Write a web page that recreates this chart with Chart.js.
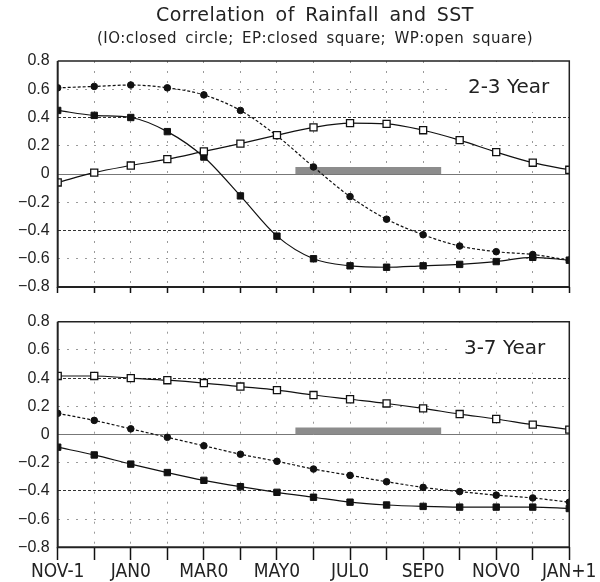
<!DOCTYPE html>
<html><head><meta charset="utf-8">
<script src="https://cdn.jsdelivr.net/npm/chart.js@4/dist/chart.umd.min.js"></script>
<style>
html,body{margin:0;padding:0;background:#fff;}
#wrap{position:relative;width:600px;height:582px;overflow:hidden;background:#fff;}
canvas{position:absolute;left:0;}
.t{position:absolute;font-family:"DejaVu Sans",sans-serif;color:#222;white-space:nowrap;line-height:normal;}
#title{top:3px;left:156px;font-size:19px;letter-spacing:0.4px;word-spacing:4px;}
#sub{top:28.5px;left:97px;font-size:15px;letter-spacing:0.5px;word-spacing:3px;}
</style></head><body>
<div id="wrap">
<canvas id="c1" width="600" height="300" style="top:0"></canvas>
<canvas id="c2" width="600" height="282" style="top:300px"></canvas>
<div id="title" class="t">Correlation of Rainfall and SST</div>
<div id="sub" class="t">(IO:closed circle; EP:closed square; WP:open square)</div>
</div>
<script>
// ---- data ----
const months = ['NOV-1','DEC-1','JAN0','FEB0','MAR0','APR0','MAY0','JUN0','JUL0','AUG0','SEP0','OCT0','NOV0','DEC0','JAN+1'];
const tickLabels = ['NOV-1','','JAN0','','MAR0','','MAY0','','JUL0','','SEP0','','NOV0','','JAN+1'];
const yTicks = [-0.8,-0.6,-0.4,-0.2,0,0.2,0.4,0.6,0.8];
const panelLabels = ['2-3 Year','3-7 Year'];
// 2-3 year band
const io23 = [0.61,0.62,0.63,0.61,0.56,0.45,0.27,0.05,-0.16,-0.32,-0.43,-0.51,-0.55,-0.57,-0.61];
const ep23 = [0.45,0.415,0.40,0.30,0.12,-0.155,-0.44,-0.60,-0.65,-0.66,-0.65,-0.64,-0.62,-0.59,-0.61];
const wp23 = [-0.06,0.01,0.06,0.105,0.16,0.215,0.275,0.33,0.36,0.355,0.31,0.24,0.155,0.08,0.03];
// 3-7 year band
const io37 = [0.15,0.10,0.04,-0.02,-0.08,-0.14,-0.19,-0.245,-0.29,-0.335,-0.375,-0.405,-0.43,-0.45,-0.48];
const ep37 = [-0.09,-0.145,-0.21,-0.27,-0.325,-0.37,-0.41,-0.445,-0.48,-0.50,-0.51,-0.515,-0.515,-0.515,-0.525];
const wp37 = [0.415,0.415,0.40,0.385,0.365,0.34,0.315,0.28,0.25,0.22,0.185,0.145,0.11,0.07,0.035];
// shaded season bar (x in month index, height in correlation units)
const seasonX = [6.5,10.5];
const seasonY = [0.05,0.05];

const toXY = arr => arr.map((v,i)=>({x:i,y:v}));

function gridColor(v){
  if (v===undefined) return '#999';
  const a=Math.abs(v);
  if (a<1e-9) return '#777';
  if (Math.abs(a-0.4)<1e-9) return '#333';
  if (Math.abs(a-0.8)<1e-9) return 'rgba(0,0,0,0)';
  return '#9a9a9a';
}
function gridDash(v){
  if (v===undefined) return [];
  const a=Math.abs(v);
  if (a<1e-9) return [];
  if (Math.abs(a-0.4)<1e-9) return [3,2];
  return [2,7];
}

const framePlugin = {
  id:'frame',
  beforeDatasetsDraw(chart, args, opts){
    const {ctx, chartArea:a} = chart;
    ctx.save();
    ctx.font = '20px "DejaVu Sans", sans-serif';
    const w = ctx.measureText(opts.text).width;
    ctx.fillStyle = '#fff';
    ctx.fillRect(a.right - w - 38, a.top + 1, w + 38, 50);
    ctx.fillStyle = '#222';
    ctx.textAlign = 'right';
    ctx.textBaseline = 'middle';
    ctx.fillText(opts.text, a.right - opts.margin, a.top + 27);
    ctx.restore();
  },
  afterDatasetsDraw(chart){
    const {ctx, chartArea:a} = chart;
    ctx.save();
    ctx.strokeStyle = '#222';
    ctx.setLineDash([]);
    ctx.lineWidth = 1.5;
    ctx.beginPath();
    ctx.moveTo(a.left, a.top); ctx.lineTo(a.right, a.top); ctx.lineTo(a.right, a.bottom);
    ctx.stroke();
    ctx.lineWidth = 2;
    ctx.beginPath();
    ctx.moveTo(a.left, a.top); ctx.lineTo(a.left, a.bottom); ctx.lineTo(a.right, a.bottom);
    ctx.stroke();
    ctx.restore();
  }
};

function makeChart(id, io, ep, wp, cfg){
  return new Chart(document.getElementById(id), {
    type:'line',
    data:{datasets:[
      {label:'WP', data:toXY(wp), order:0, borderColor:'#111', borderWidth:1.2, pointStyle:'rect', pointRadius:5, pointBackgroundColor:'#fff', pointBorderColor:'#111', pointBorderWidth:1.3, cubicInterpolationMode:'monotone'},
      {label:'EP', data:toXY(ep), order:1, borderColor:'#111', borderWidth:1.2, pointStyle:'rect', pointRadius:4.5, pointBackgroundColor:'#111', pointBorderColor:'#111', pointBorderWidth:1, cubicInterpolationMode:'monotone'},
      {label:'IO', data:toXY(io), order:2, borderColor:'#111', borderWidth:1.2, borderDash:[3,2], pointStyle:'circle', pointRadius:3.3, pointBackgroundColor:'#111', pointBorderColor:'#111', pointBorderWidth:1, cubicInterpolationMode:'monotone'},
      {label:'season', data:seasonX.map((x,i)=>({x:x,y:seasonY[i]})), order:3, borderWidth:0, borderColor:'rgba(0,0,0,0)', pointRadius:0, fill:'origin', backgroundColor:'#8c8c8c'}
    ]},
    options:{
      responsive:false, animation:false,
      layout:{padding:{top:cfg.padTop, left:0, right:30.7, bottom:0}},
      plugins:{legend:{display:false}, tooltip:{enabled:false}, frame:{text:cfg.label, margin:cfg.margin}},
      scales:{
        x:{type:'linear', min:0, max:14,
          afterBuildTicks:s=>{s.ticks = months.map((m,i)=>({value:i}));},
          afterFit:s=>{s.height = cfg.xHeight; s.paddingLeft=0; s.paddingRight=0;},
          ticks:{display:cfg.showLabels, autoSkip:false, maxRotation:0, minRotation:0, padding:1,
            color:'#222', font:{family:"'DejaVu Sans Condensed','Liberation Sans Narrow','Liberation Sans', sans-serif", size:19},
            callback:(v)=>tickLabels[v] ?? ''},
          grid:{color:'#9a9a9a', lineWidth:1, drawTicks:true, tickLength:cfg.tickLen, tickColor:'#111', tickWidth:1.5, tickBorderDash:[]},
          border:{display:false, dash:[2,8]}
        },
        y:{min:-0.8, max:0.8,
          afterBuildTicks:s=>{s.ticks = yTicks.map(v=>({value:v}));},
          afterFit:s=>{s.width = 57.7; s.paddingTop=0; s.paddingBottom=0;},
          ticks:{padding:8, color:'#222', font:{family:"'Liberation Sans', sans-serif", size:16},
            callback:v=> Math.abs(v)<1e-9 ? '0' : v.toFixed(1).replace('-', '\u2212')},
          grid:{color:c=>gridColor(c.tick ? c.tick.value : undefined), lineWidth:1, drawTicks:false},
          border:{display:false, dash:c=>gridDash(c.tick ? c.tick.value : undefined)}
        }
      }
    },
    plugins:[framePlugin]
  });
}

makeChart('c1', io23, ep23, wp23, {padTop:61, xHeight:13, showLabels:false, tickLen:6, label:panelLabels[0], margin:20});
makeChart('c2', io37, ep37, wp37, {padTop:21.7, xHeight:34.7, showLabels:true, tickLen:12.7, label:panelLabels[1], margin:24});
</script>
</body></html>
